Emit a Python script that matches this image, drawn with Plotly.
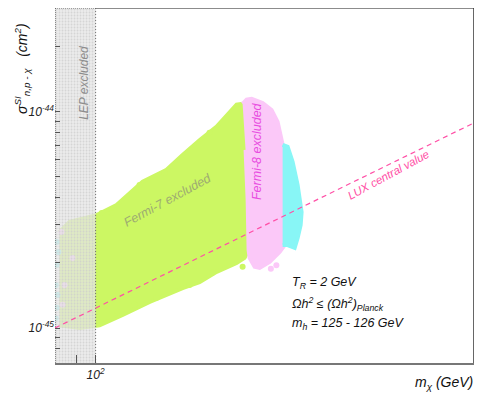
import plotly.graph_objects as go

# ---- parameter-space regions (m_chi in GeV, sigma_SI in cm^2) ----
fermi7_mass = [82.0, 86.7, 100.6, 112.2, 129.5, 147.7, 161.3, 177.0, 194.5, 212.3, 217.0, 224.3,
               228.0, 230.6, 231.8, 226.7, 217.0, 194.5, 177.0, 161.3, 134.6, 116.0, 102.2, 91.6, 82.0]
fermi7_sigma = [2.78e-45, 3.10e-45, 3.33e-45, 3.71e-45, 4.75e-45, 5.40e-45, 6.32e-45, 7.40e-45, 8.55e-45,
                1.02e-44, 1.08e-44, 1.09e-44, 6.67e-45, 3.91e-45, 2.30e-45, 2.11e-45, 2.00e-45, 1.82e-45,
                1.63e-45, 1.53e-45, 1.32e-45, 1.15e-45, 1.03e-45, 1.00e-45, 1.03e-45]

fermi8_mass = [224.3, 229.3, 235.7, 250.4, 263.0, 271.9, 279.5, 282.6, 274.9, 260.2, 246.3, 239.6,
               233.1, 231.8, 230.6, 228.0]
fermi8_sigma = [1.09e-44, 1.14e-44, 1.15e-44, 1.10e-44, 1.02e-44, 8.99e-45, 7.04e-45, 2.42e-45,
                2.25e-45, 2.02e-45, 1.90e-45, 1.92e-45, 2.11e-45, 2.30e-45, 3.91e-45, 6.67e-45]

allowed_mass = [279.5, 287.3, 295.3, 303.5, 310.2, 308.6, 303.5, 298.6, 287.3, 279.5]
allowed_sigma = [7.04e-45, 6.89e-45, 5.87e-45, 4.59e-45, 3.44e-45, 3.00e-45, 2.61e-45, 2.35e-45,
                 2.42e-45, 2.42e-45]

# scattered scan points near the edges of the regions
green_pts_mass = [103.4, 109.2, 127.3, 146.1, 164.8, 187.0, 101.1, 112.8, 123.9, 139.8, 167.6, 190.0,
                  224.3, 85.2, 91.6, 96.8, 86.7, 93.1, 89.1, 95.2, 85.2, 97.8, 91.6]
green_pts_sigma = [3.41e-45, 3.41e-45, 4.59e-45, 5.22e-45, 6.19e-45, 8.00e-45, 1.09e-45, 1.19e-45,
                   1.28e-45, 1.38e-45, 1.58e-45, 1.80e-45, 1.92e-45, 2.70e-45, 2.90e-45, 3.10e-45,
                   2.11e-45, 1.80e-45, 1.47e-45, 1.32e-45, 1.19e-45, 1.11e-45, 1.58e-45]
pink_pts_mass = [82.9, 84.3, 83.4, 88.1, 262.0, 270.0]
pink_pts_sigma = [2.78e-45, 1.58e-45, 1.28e-45, 2.11e-45, 1.88e-45, 1.95e-45]
cyan_pts_mass = [80.7, 80.7, 80.3, 81.1, 80.7, 80.3, 81.5]
cyan_pts_sigma = [2.50e-45, 1.96e-45, 1.58e-45, 1.42e-45, 1.24e-45, 1.11e-45, 2.25e-45]

# LEP exclusion band and LUX central value line
lep_mass = [80, 100]
lux_mass = [80, 800]
lux_sigma = [1.0e-45, 8.9e-45]

x_range = [80, 800]
y_range = [6.89e-46, 3.03e-44]

x_ticks = [90, 100]
x_tick_text = ["", "10<sup>2</sup>"]
x_ticks_upper = [200, 300, 400, 500, 600, 700]
y_ticks = [8e-46, 9e-46, 1e-45, 2e-45, 3e-45, 4e-45, 5e-45, 6e-45, 7e-45, 8e-45, 9e-45,
           1e-44, 2e-44, 3e-44]
y_tick_text = ["", "", "10<sup>-45</sup>", "", "", "", "", "", "", "", "", "10<sup>-44</sup>", "", ""]

GREEN = "#ccf763"
PINK = "#fbc8f8"
CYAN = "#88f6f6"

fig = go.Figure()

for mx, sg, col in [(fermi7_mass, fermi7_sigma, GREEN),
                    (fermi8_mass, fermi8_sigma, PINK),
                    (allowed_mass, allowed_sigma, CYAN)]:
    fig.add_trace(go.Scatter(x=mx, y=sg, mode="lines", fill="toself", fillcolor=col,
                             line=dict(color=col, width=4), hoverinfo="skip", showlegend=False))

for mx, sg, col in [(green_pts_mass, green_pts_sigma, GREEN),
                    (pink_pts_mass, pink_pts_sigma, PINK),
                    (cyan_pts_mass, cyan_pts_sigma, CYAN)]:
    fig.add_trace(go.Scatter(x=mx, y=sg, mode="markers", marker=dict(color=col, size=6, line=dict(width=0)),
                             hoverinfo="skip", showlegend=False))

# LEP excluded band (hatched grey, drawn over the points)
fig.add_trace(go.Scatter(
    x=[lep_mass[0], lep_mass[1], lep_mass[1], lep_mass[0], lep_mass[0]],
    y=[y_range[0], y_range[0], y_range[1], y_range[1], y_range[0]],
    mode="lines", fill="toself", line=dict(width=0),
    fillcolor="rgba(226,226,226,0.75)",
    fillpattern=dict(shape=".", size=3, solidity=0.3, fgcolor="rgba(205,205,205,0.75)",
                     bgcolor="rgba(228,228,228,0.75)", fillmode="replace"),
    hoverinfo="skip", showlegend=False))
fig.add_trace(go.Scatter(x=[lep_mass[1], lep_mass[1]], y=y_range, mode="lines",
                         line=dict(color="#666", width=1, dash="1px,2px"),
                         hoverinfo="skip", showlegend=False))

# LUX central value
fig.add_trace(go.Scatter(x=lux_mass, y=lux_sigma, mode="lines",
                         line=dict(color="#ff4fa6", width=1.2, dash="5px,4px"),
                         hoverinfo="skip", showlegend=False))

# frame
fig.add_trace(go.Scatter(x=[x_range[0], x_range[0]], y=y_range, mode="lines",
                         line=dict(color="#222", width=1, dash="1px,1px"), hoverinfo="skip", showlegend=False))
fig.add_trace(go.Scatter(x=[x_range[0], lep_mass[1]], y=[y_range[1], y_range[1]], mode="lines",
                         line=dict(color="#333", width=1, dash="1px,1px"), hoverinfo="skip", showlegend=False))
fig.add_trace(go.Scatter(x=[lep_mass[1], x_range[1]], y=[y_range[1], y_range[1]], mode="lines",
                         line=dict(color="#666", width=1.5), hoverinfo="skip", showlegend=False))
fig.add_trace(go.Scatter(x=[x_range[1], x_range[1]], y=y_range, mode="lines",
                         line=dict(color="#333", width=1.5), hoverinfo="skip", showlegend=False))

tick_font = dict(family="Liberation Sans", size=12, color="#222", style="italic")
x_log_range = [1.90309, 2.90309]

fig.update_layout(
    template="none", width=480, height=407, margin=dict(l=55, r=6, t=8, b=44),
    plot_bgcolor="white", paper_bgcolor="white", showlegend=False,
    xaxis=dict(type="log", range=x_log_range, showgrid=False, zeroline=False,
               showline=True, linecolor="#777", linewidth=2,
               tickmode="array", tickvals=x_ticks, ticktext=x_tick_text,
               ticks="inside", ticklen=8, tickcolor="#555", tickwidth=1,
               tickfont=tick_font),
    # second bottom axis carrying the unlabelled ticks at 200 ... 700 GeV
    xaxis2=dict(type="log", range=x_log_range, overlaying="x", anchor="y", side="bottom",
                showgrid=False, zeroline=False, showline=False,
                tickmode="array", tickvals=x_ticks_upper, showticklabels=False,
                ticks="inside", ticklen=6, tickcolor="#666", tickwidth=1),
    yaxis=dict(type="log", range=[-45.162, -43.519], showgrid=False, zeroline=False,
               showline=False,
               tickmode="array", tickvals=y_ticks, ticktext=y_tick_text,
               ticks="inside", ticklen=5, tickcolor="#555", tickwidth=1,
               tickfont=tick_font),
)

def note(text, x, y, size, color, angle=0, xanchor="center", yanchor="middle", align="center"):
    fig.add_annotation(text=text, x=x, y=y, xref="paper", yref="paper", showarrow=False,
                       textangle=angle, xanchor=xanchor, yanchor=yanchor, align=align,
                       font=dict(family="Liberation Sans", size=size, color=color, style="italic"))

note("LEP excluded", 0.069, 0.789, 12, "#8c8c8c", angle=-90)
note("Fermi-7 excluded", 0.270, 0.459, 12.5, "#9dab72", angle=-28.5)
note("Fermi-8 excluded", 0.482, 0.597, 12.5, "#e84ce0", angle=-90)
note("LUX central value", 0.795, 0.530, 11.5, "#ff4fa6", angle=-28.5)

note("T<sub>R</sub> = 2 GeV", 0.561, 0.226, 12.5, "#111", xanchor="left", align="left")
note("Ωh<sup>2</sup> ≤ (Ωh<sup>2</sup>)<sub>Planck</sub>", 0.561, 0.166, 12.5, "#111", xanchor="left", align="left")
note("m<sub>h</sub> = 125 - 126 GeV", 0.561, 0.110, 12.5, "#111", xanchor="left", align="left")

note("σ<sup>SI</sup><sub>n,p - χ</sub>   (cm<sup>2</sup>)", -0.079, 0.831, 14, "#111", angle=-90)
note("m<sub>χ</sub> (GeV)", 1.002, -0.056, 14, "#111", xanchor="right")

fig.write_html("out.html")
